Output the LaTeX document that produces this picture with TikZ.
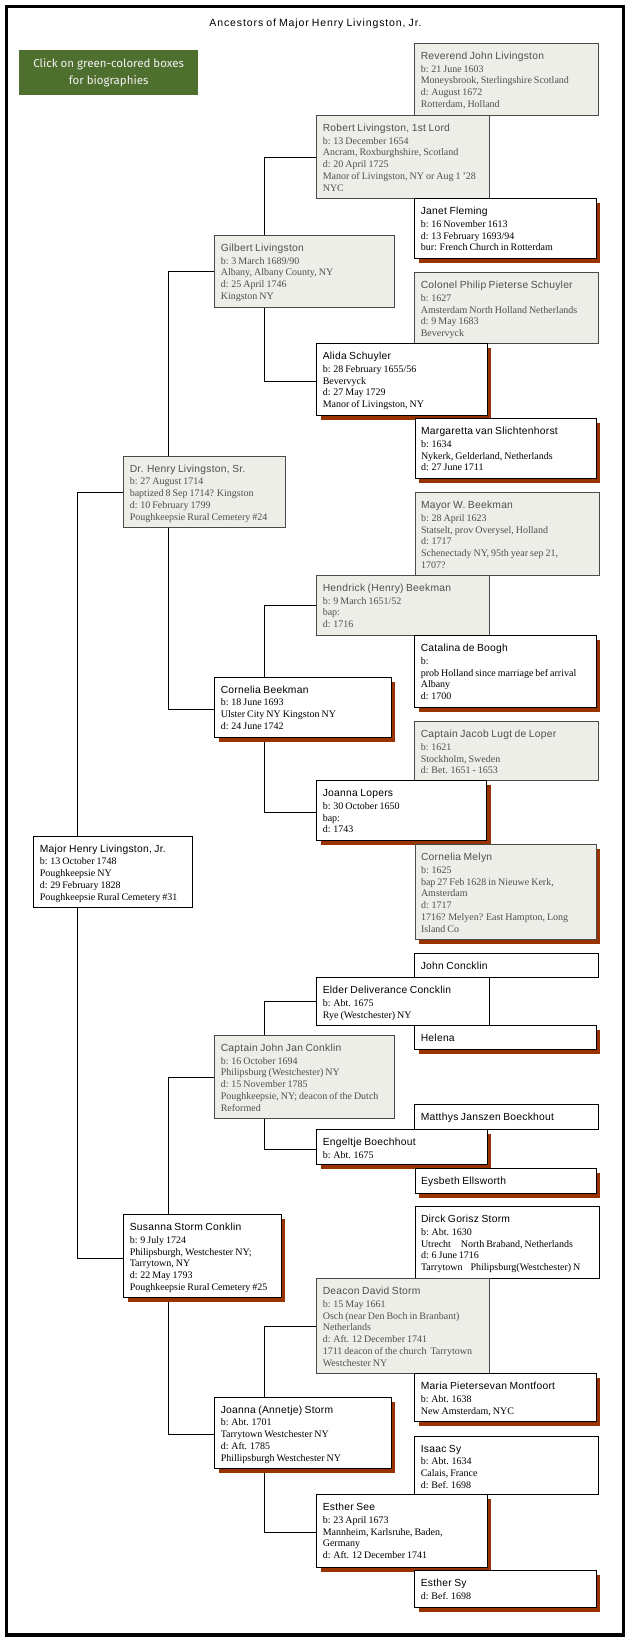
\documentclass[tikz,border=0pt]{standalone}
\usepackage{fontspec}
\setmainfont{Liberation Serif}[WordSpace=0.8]
\newfontfamily\namefont{Liberation Sans}[LetterSpace=2.5,WordSpace=0.8]
\newfontfamily\titlefont{Liberation Sans}[LetterSpace=8.5,WordSpace=0.8]
\newfontfamily\clickfont{Fira Sans}
\usetikzlibrary{shadows,calc}
\definecolor{gfill}{HTML}{ECEEE7}
\definecolor{gborder}{HTML}{4A4A4A}
\definecolor{gtext}{HTML}{505050}
\definecolor{shadowc}{HTML}{993300}
\definecolor{bannergreen}{HTML}{4F6F2F}
\definecolor{bannertext}{HTML}{F2F2F2}
\pgfdeclarelayer{background}
\pgfdeclarelayer{paper}
\pgfsetlayers{paper,background,main}
\newcommand\nm{\rule{0pt}{16bp}\namefont\fontsize{10.3bp}{11.7bp}\selectfont}
\newcommand\person[7]{%
  \node[#6,anchor=north west,inner sep=0pt] (#1) at (#2,#3)
  {\parbox[c][#5bp][t]{#4bp}{\hspace*{6bp}\begin{tabular}[t]{@{}l@{}}#7\end{tabular}}};}
\tikzset{
  gbox/.style={draw=gborder,fill=gfill,text=gtext,line width=1bp},
  wbox/.style={draw=black,fill=white,text=black,line width=1bp},
  shadowed/.style={general shadow={fill=shadowc,shadow xshift=4bp,shadow yshift=-4.5bp}},
  conn/.style={draw=black,line width=1bp},
}
\begin{document}
\begin{tikzpicture}[x=1bp,y=-1bp,font=\fontsize{10bp}{11.7bp}\selectfont]
\useasboundingbox (0,0) rectangle (630,1641);
\begin{pgfonlayer}{paper}
\fill[white] (0,0) rectangle (630,1641);
\end{pgfonlayer}
\draw[line width=3.8bp] (6.5,6.5) rectangle (623.5,1635);
\node[font=\titlefont\fontsize{10.5bp}{12bp}\selectfont] (title) at (315.5,24) {Ancestors of Major Henry Livingston, Jr.};
\node[fill=bannergreen,anchor=north west,minimum width=179bp,minimum height=45bp,inner sep=0pt,align=center,text=bannertext,font=\clickfont\fontsize{11.5bp}{16.7bp}\selectfont] (banner) at (19,50) {Click on green-colored boxes\\for biographies};

\person{reverend}{414.3}{43}{184}{72}{gbox}{\nm Reverend John Livingston\\[1bp] b: 21 June 1603\\ Moneysbrook, Sterlingshire Scotland\\ d: August 1672\\ Rotterdam, Holland}
\person{robert}{316.3}{115}{173}{83.3}{gbox}{\nm Robert Livingston, 1st Lord\\[1bp] b: 13 December 1654\\ Ancram, Roxburghshire, Scotland\\ d: 20 April 1725\\ Manor of Livingston, NY or Aug 1 '28\\ NYC}
\person{janet}{414.3}{198.3}{181.4}{60}{wbox,shadowed}{\nm Janet Fleming\\[1bp] b: 16 November 1613\\ d: 13 February 1693/94\\ bur: French Church in Rotterdam}
\person{gilbert}{214.3}{235}{180}{71.7}{gbox}{\nm Gilbert Livingston\\[1bp] b: 3 March 1689/90\\ Albany, Albany County, NY\\ d: 25 April 1746\\ Kingston NY}
\person{colonel}{414.3}{272.3}{184}{71}{gbox}{\nm Colonel Philip Pieterse Schuyler\\[1bp] b: 1627\\ Amsterdam North Holland Netherlands\\ d: 9 May 1683\\ Bevervyck}
\person{alida}{316.3}{343.3}{170.4}{71.7}{wbox,shadowed}{\nm Alida Schuyler\\[1bp] b: 28 February 1655/56\\ Bevervyck\\ d: 27 May 1729\\ Manor of Livingston, NY}
\person{margaretta}{414.5}{418.3}{181}{60}{wbox,shadowed}{\nm Margaretta van Slichtenhorst\\[1bp] b: 1634\\ Nykerk, Gelderland, Netherlands\\ d: 27 June 1711}
\person{drhenry}{123.3}{455.7}{161.3}{71.6}{gbox}{\nm Dr. Henry Livingston, Sr.\\[1bp] b: 27 August 1714\\ baptized 8 Sep 1714? Kingston\\ d: 10 February 1799\\ Poughkeepsie Rural Cemetery \#24}
\person{mayor}{414.5}{492.3}{184}{82.7}{gbox}{\nm Mayor W. Beekman\\[1bp] b: 28 April 1623\\ Statselt, prov Overysel, Holland\\ d: 1717\\ Schenectady NY, 95th year sep 21,\\ 1707?}
\person{hendrick}{316.3}{575}{173}{60}{gbox}{\nm Hendrick (Henry) Beekman\\[1bp] b: 9 March 1651/52\\ bap:\\ d: 1716}
\person{catalina}{414.3}{635.3}{181.4}{72}{wbox,shadowed}{\nm Catalina de Boogh\\[1bp] b:\\ prob Holland since marriage bef arrival\\ Albany\\ d: 1700}
\person{corneliab}{214.3}{676.7}{176.4}{60}{wbox,shadowed}{\nm Cornelia Beekman\\[1bp] b: 18 June 1693\\ Ulster City NY Kingston NY\\ d: 24 June 1742}
\person{jacob}{414.3}{721.3}{184}{59}{gbox}{\nm Captain Jacob Lugt de Loper\\[1bp] b: 1621\\ Stockholm, Sweden\\ d: Bet. 1651 - 1653}
\person{joannal}{316.3}{780.3}{170}{59.7}{wbox,shadowed}{\nm Joanna Lopers\\[1bp] b: 30 October 1650\\ bap:\\ d: 1743}
\person{major}{33.3}{835.7}{159}{71}{wbox}{\nm Major Henry Livingston, Jr.\\[1bp] b: 13 October 1748\\ Poughkeepsie NY\\ d: 29 February 1828\\ Poughkeepsie Rural Cemetery \#31}
\person{melyn}{414.5}{844.3}{181}{95}{gbox,shadowed}{\nm Cornelia Melyn\\[1bp] b: 1625\\ bap 27 Feb 1628 in Nieuwe Kerk,\\ Amsterdam\\ d: 1717\\ 1716? Melyen? East Hampton, Long\\ Island Co}
\person{johnc}{414.3}{953.3}{184}{24}{wbox}{\nm John Concklin}
\person{elder}{316.3}{977.3}{173}{48}{wbox}{\nm Elder Deliverance Concklin\\[1bp] b: Abt. 1675\\ Rye (Westchester) NY}
\person{helena}{414.3}{1025.3}{181.4}{24}{wbox,shadowed}{\nm Helena}
\person{captjohn}{214.3}{1035}{180}{83.3}{gbox}{\nm Captain John Jan Conklin\\[1bp] b: 16 October 1694\\ Philipsburg (Westchester) NY\\ d: 15 November 1785\\ Poughkeepsie, NY; deacon of the Dutch\\ Reformed}
\person{matthys}{414.3}{1104.3}{184}{25}{wbox}{\nm Matthys Janszen Boeckhout}
\person{engeltje}{316.3}{1129.3}{170.4}{35}{wbox,shadowed}{\nm Engeltje Boechhout\\[1bp] b: Abt. 1675}
\person{eysbeth}{414.5}{1168.3}{181}{24.4}{wbox,shadowed}{\nm Eysbeth Ellsworth}
\person{dirck}{414.5}{1206.3}{184}{72}{wbox}{\nm Dirck Gorisz Storm\\[1bp] b: Abt. 1630\\ Utrecht\hspace{10bp}North Braband, Netherlands\\ d: 6 June 1716\\ Tarrytown\hspace{8bp}Philipsburg(Westchester) N}
\person{susanna}{123.3}{1214.3}{157.2}{83}{wbox,shadowed}{\nm Susanna Storm Conklin\\[1bp] b: 9 July 1724\\ Philipsburgh, Westchester NY;\\ Tarrytown, NY\\ d: 22 May 1793\\ Poughkeepsie Rural Cemetery \#25}
\person{deacon}{316.3}{1278.3}{173}{95}{gbox}{\nm Deacon David Storm\\[1bp] b: 15 May 1661\\ Osch (near Den Boch in Branbant)\\ Netherlands\\ d: Aft. 12 December 1741\\ 1711 deacon of the church\hspace{4bp}Tarrytown\\ Westchester NY}
\person{maria}{414.3}{1373.3}{181.4}{47.7}{wbox,shadowed}{\nm Maria Pietersevan Montfoort\\[1bp] b: Abt. 1638\\ New Amsterdam, NYC}
\person{joannaa}{214.3}{1396.7}{176.4}{71.6}{wbox,shadowed}{\nm Joanna (Annetje) Storm\\[1bp] b: Abt. 1701\\ Tarrytown Westchester NY\\ d: Aft. 1785\\ Phillipsburgh Westchester NY}
\person{isaac}{414.3}{1435.7}{184}{58.6}{wbox}{\nm Isaac Sy\\[1bp] b: Abt. 1634\\ Calais, France\\ d: Bef. 1698}
\person{esthersee}{316.3}{1494.3}{170.4}{72.4}{wbox,shadowed}{\nm Esther See\\[1bp] b: 23 April 1673\\ Mannheim, Karlsruhe, Baden,\\ Germany\\ d: Aft. 12 December 1741}
\person{esthersy}{414.3}{1570}{181.4}{36.7}{wbox,shadowed}{\nm Esther Sy\\[1bp] d: Bef. 1698}

\begin{pgfonlayer}{background}
% generation 0 -> 1
\draw[conn] (drhenry.west) -| ($(major.north west)+(44.2,0)$);
\draw[conn] ($(major.south west)+(44.2,0)$) |- ($(susanna.west)+(0,1.8)$);
% generation 1 -> 2
\draw[conn] (gilbert.west) -| ($(drhenry.north west)+(45.3,0)$);
\draw[conn] ($(drhenry.south west)+(45.3,0)$) |- ($(corneliab.west)+(0,1.8)$);
\draw[conn] (captjohn.west) -| ($(susanna.north west)+(45.3,0)$);
\draw[conn] ($(susanna.south west)+(45.3,0)$) |- ($(joannaa.west)+(0,1.8)$);
% generation 2 -> 3
\draw[conn] (robert.west) -| ($(gilbert.north west)+(50,0)$);
\draw[conn] ($(gilbert.south west)+(50,0)$) |- ($(alida.west)+(0,1.8)$);
\draw[conn] (hendrick.west) -| ($(corneliab.north west)+(50,0)$);
\draw[conn] ($(corneliab.south west)+(50,0)$) |- ($(joannal.west)+(0,1.8)$);
\draw[conn] (elder.west) -| ($(captjohn.north west)+(50,0)$);
\draw[conn] ($(captjohn.south west)+(50,0)$) |- ($(engeltje.west)+(0,1.8)$);
\draw[conn] (deacon.west) -| ($(joannaa.north west)+(50,0)$);
\draw[conn] ($(joannaa.south west)+(50,0)$) |- ($(esthersee.west)+(0,1.8)$);
\end{pgfonlayer}
\end{tikzpicture}
\end{document}
